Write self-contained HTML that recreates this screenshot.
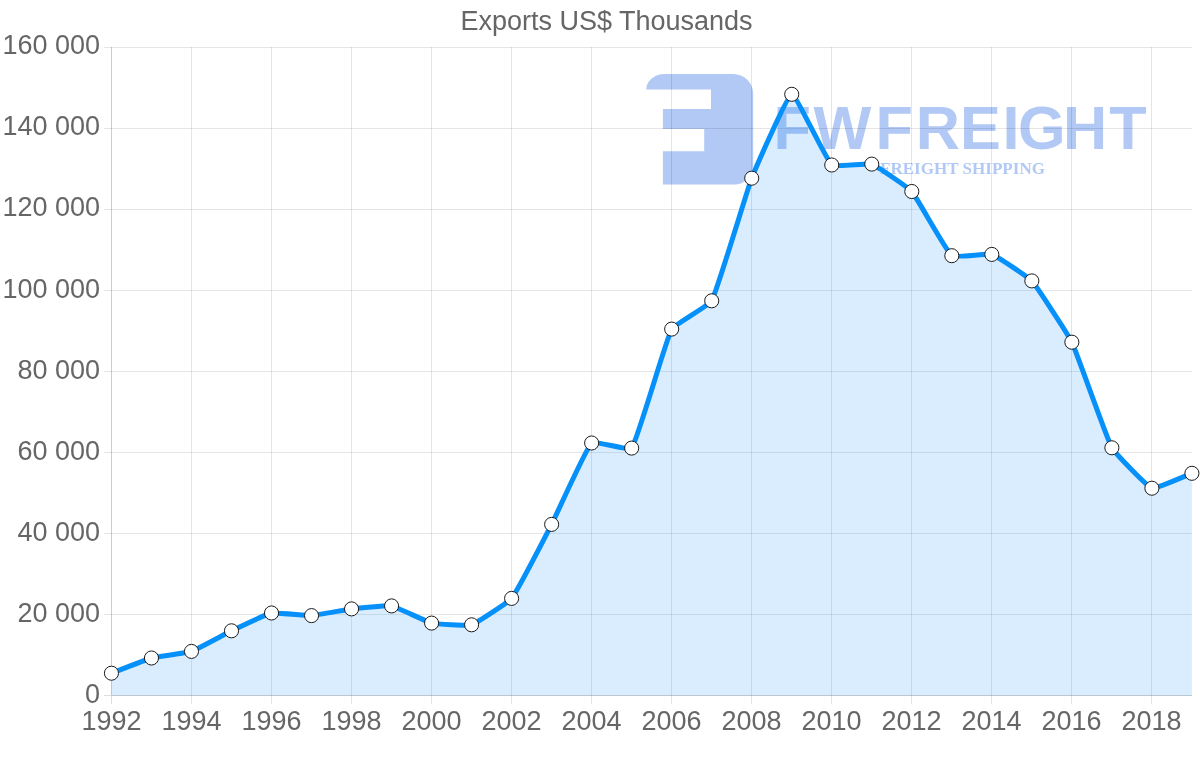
<!DOCTYPE html>
<html lang="en"><head><meta charset="utf-8"><title>Exports US$ Thousands</title>
<style>
html,body{margin:0;padding:0;background:#fff;}
body{width:1200px;height:763px;overflow:hidden;position:relative;}
svg{position:absolute;left:0;top:0;display:block;}
text{font-family:"Liberation Sans",Arial,sans-serif;fill:#666;}
.wm text{fill:#6491eb;}
</style></head><body>
<svg width="1200" height="763" viewBox="0 0 1200 763">
<rect width="1200" height="763" fill="#fff"/>
<text x="606.5" y="30.1" font-size="27" text-anchor="middle">Exports US$ Thousands</text>
<g class="wm" opacity="0.5">
<path d="M646.2 89.6 A18.7 15.7 0 0 1 665 73.9 L733.2 73.9 A20 20 0 0 1 753.2 93.9 L753.2 165.6 A19 19 0 0 1 734.2 184.6 L662.9 184.6 L662.9 151.2 L704.2 151.2 L704.2 129.1 L662.9 129.1 L662.9 109 L711 109 L711 89.6 Z" fill="#6491eb"/>
<text transform="translate(0 148.8) scale(1 1)" x="773.59 813.48 875.44 915.76 959.88 1002.41 1018.00 1062.99 1109.28" y="0" font-size="61.2" font-weight="bold">FWFREIGHT</text>
<text x="880" y="174.1" font-size="17.7" font-weight="bold" style="font-family:'Liberation Serif',serif" textLength="165" lengthAdjust="spacingAndGlyphs">FREIGHT SHIPPING</text>
</g>
<g stroke="#000" stroke-opacity="0.1" stroke-width="1" fill="none">
<line x1="104.0" y1="614.50" x2="1192.0" y2="614.50"/>
<line x1="104.0" y1="533.50" x2="1192.0" y2="533.50"/>
<line x1="104.0" y1="452.50" x2="1192.0" y2="452.50"/>
<line x1="104.0" y1="371.50" x2="1192.0" y2="371.50"/>
<line x1="104.0" y1="290.50" x2="1192.0" y2="290.50"/>
<line x1="104.0" y1="209.50" x2="1192.0" y2="209.50"/>
<line x1="104.0" y1="128.50" x2="1192.0" y2="128.50"/>
<line x1="104.0" y1="47.50" x2="1192.0" y2="47.50"/>
<line x1="191.50" y1="47.0" x2="191.50" y2="704.0"/>
<line x1="271.50" y1="47.0" x2="271.50" y2="704.0"/>
<line x1="351.50" y1="47.0" x2="351.50" y2="704.0"/>
<line x1="431.50" y1="47.0" x2="431.50" y2="704.0"/>
<line x1="511.50" y1="47.0" x2="511.50" y2="704.0"/>
<line x1="591.50" y1="47.0" x2="591.50" y2="704.0"/>
<line x1="671.50" y1="47.0" x2="671.50" y2="704.0"/>
<line x1="751.50" y1="47.0" x2="751.50" y2="704.0"/>
<line x1="831.50" y1="47.0" x2="831.50" y2="704.0"/>
<line x1="911.50" y1="47.0" x2="911.50" y2="704.0"/>
<line x1="991.50" y1="47.0" x2="991.50" y2="704.0"/>
<line x1="1071.50" y1="47.0" x2="1071.50" y2="704.0"/>
<line x1="1151.50" y1="47.0" x2="1151.50" y2="704.0"/>
</g>
<g stroke="#000" stroke-opacity="0.2" stroke-width="1"><line x1="111.5" y1="47.0" x2="111.5" y2="696.0"/><line x1="112.0" y1="695.5" x2="1192.0" y2="695.5"/></g>
<g stroke="#000" stroke-opacity="0.13" stroke-width="1"><line x1="111.5" y1="696.0" x2="111.5" y2="704.0"/><line x1="104.0" y1="695.5" x2="111.0" y2="695.5"/></g>
<text x="100" y="703.10" font-size="27" text-anchor="end">0</text>
<text x="100" y="622.10" font-size="27" text-anchor="end">20 000</text>
<text x="100" y="541.10" font-size="27" text-anchor="end">40 000</text>
<text x="100" y="460.10" font-size="27" text-anchor="end">60 000</text>
<text x="100" y="379.10" font-size="27" text-anchor="end">80 000</text>
<text x="100" y="298.10" font-size="27" text-anchor="end">100 000</text>
<text x="100" y="216.40" font-size="27" text-anchor="end">120 000</text>
<text x="100" y="135.40" font-size="27" text-anchor="end">140 000</text>
<text x="100" y="54.10" font-size="27" text-anchor="end">160 000</text>
<text x="111.50" y="730.3" font-size="27" text-anchor="middle">1992</text>
<text x="191.50" y="730.3" font-size="27" text-anchor="middle">1994</text>
<text x="271.50" y="730.3" font-size="27" text-anchor="middle">1996</text>
<text x="351.50" y="730.3" font-size="27" text-anchor="middle">1998</text>
<text x="431.50" y="730.3" font-size="27" text-anchor="middle">2000</text>
<text x="511.50" y="730.3" font-size="27" text-anchor="middle">2002</text>
<text x="591.50" y="730.3" font-size="27" text-anchor="middle">2004</text>
<text x="671.50" y="730.3" font-size="27" text-anchor="middle">2006</text>
<text x="751.50" y="730.3" font-size="27" text-anchor="middle">2008</text>
<text x="831.50" y="730.3" font-size="27" text-anchor="middle">2010</text>
<text x="911.50" y="730.3" font-size="27" text-anchor="middle">2012</text>
<text x="991.50" y="730.3" font-size="27" text-anchor="middle">2014</text>
<text x="1071.50" y="730.3" font-size="27" text-anchor="middle">2016</text>
<text x="1151.50" y="730.3" font-size="27" text-anchor="middle">2018</text>
<path d="M111.45 673.20 C115.45 671.68 147.36 659.12 151.47 658.00 C155.36 656.94 187.69 652.69 191.48 651.40 C195.69 649.97 227.44 632.75 231.50 630.80 C235.45 628.91 267.34 613.79 271.52 613.00 C275.34 612.27 307.56 615.80 311.54 615.60 C315.56 615.39 347.53 609.39 351.55 608.90 C355.53 608.42 387.73 605.22 391.57 605.90 C395.73 606.64 427.42 622.12 431.59 623.10 C435.42 624.01 467.96 625.92 471.60 624.80 C475.96 623.45 508.71 602.04 511.62 598.40 C516.72 592.00 547.79 531.88 551.64 524.40 C555.79 516.34 586.11 448.28 591.65 443.00 C594.12 440.65 629.72 450.87 631.67 448.10 C637.73 439.48 665.93 339.69 671.69 329.10 C673.94 324.96 709.50 304.96 711.71 300.80 C717.50 289.87 747.07 190.20 751.72 178.20 C755.07 169.55 787.47 95.00 791.74 94.30 C795.47 93.68 826.39 160.32 831.76 165.00 C834.40 167.30 868.15 162.90 871.77 164.10 C876.16 165.55 908.66 187.92 911.79 191.50 C916.67 197.08 946.57 251.59 951.81 255.70 C954.58 257.88 988.18 253.25 991.82 254.40 C996.19 255.77 1028.67 277.42 1031.84 280.90 C1036.68 286.20 1068.71 335.64 1071.86 342.20 C1076.71 352.33 1106.55 438.09 1111.88 447.80 C1114.56 452.69 1147.32 486.74 1151.89 488.20 C1155.32 489.29 1187.91 474.79 1191.91 473.30 L1191.91 695.5 L111.45 695.5 Z" fill="#1490ff" fill-opacity="0.16"/>
<path d="M111.45 673.20 C115.45 671.68 147.36 659.12 151.47 658.00 C155.36 656.94 187.69 652.69 191.48 651.40 C195.69 649.97 227.44 632.75 231.50 630.80 C235.45 628.91 267.34 613.79 271.52 613.00 C275.34 612.27 307.56 615.80 311.54 615.60 C315.56 615.39 347.53 609.39 351.55 608.90 C355.53 608.42 387.73 605.22 391.57 605.90 C395.73 606.64 427.42 622.12 431.59 623.10 C435.42 624.01 467.96 625.92 471.60 624.80 C475.96 623.45 508.71 602.04 511.62 598.40 C516.72 592.00 547.79 531.88 551.64 524.40 C555.79 516.34 586.11 448.28 591.65 443.00 C594.12 440.65 629.72 450.87 631.67 448.10 C637.73 439.48 665.93 339.69 671.69 329.10 C673.94 324.96 709.50 304.96 711.71 300.80 C717.50 289.87 747.07 190.20 751.72 178.20 C755.07 169.55 787.47 95.00 791.74 94.30 C795.47 93.68 826.39 160.32 831.76 165.00 C834.40 167.30 868.15 162.90 871.77 164.10 C876.16 165.55 908.66 187.92 911.79 191.50 C916.67 197.08 946.57 251.59 951.81 255.70 C954.58 257.88 988.18 253.25 991.82 254.40 C996.19 255.77 1028.67 277.42 1031.84 280.90 C1036.68 286.20 1068.71 335.64 1071.86 342.20 C1076.71 352.33 1106.55 438.09 1111.88 447.80 C1114.56 452.69 1147.32 486.74 1151.89 488.20 C1155.32 489.29 1187.91 474.79 1191.91 473.30" fill="none" stroke="#0590fa" stroke-width="5" stroke-linejoin="miter" stroke-linecap="butt"/>
<g fill="#fff" stroke="#1a1a1a" stroke-width="1">
<circle cx="111.45" cy="673.20" r="7.05"/>
<circle cx="151.47" cy="658.00" r="7.05"/>
<circle cx="191.48" cy="651.40" r="7.05"/>
<circle cx="231.50" cy="630.80" r="7.05"/>
<circle cx="271.52" cy="613.00" r="7.05"/>
<circle cx="311.54" cy="615.60" r="7.05"/>
<circle cx="351.55" cy="608.90" r="7.05"/>
<circle cx="391.57" cy="605.90" r="7.05"/>
<circle cx="431.59" cy="623.10" r="7.05"/>
<circle cx="471.60" cy="624.80" r="7.05"/>
<circle cx="511.62" cy="598.40" r="7.05"/>
<circle cx="551.64" cy="524.40" r="7.05"/>
<circle cx="591.65" cy="443.00" r="7.05"/>
<circle cx="631.67" cy="448.10" r="7.05"/>
<circle cx="671.69" cy="329.10" r="7.05"/>
<circle cx="711.71" cy="300.80" r="7.05"/>
<circle cx="751.72" cy="178.20" r="7.05"/>
<circle cx="791.74" cy="94.30" r="7.05"/>
<circle cx="831.76" cy="165.00" r="7.05"/>
<circle cx="871.77" cy="164.10" r="7.05"/>
<circle cx="911.79" cy="191.50" r="7.05"/>
<circle cx="951.81" cy="255.70" r="7.05"/>
<circle cx="991.82" cy="254.40" r="7.05"/>
<circle cx="1031.84" cy="280.90" r="7.05"/>
<circle cx="1071.86" cy="342.20" r="7.05"/>
<circle cx="1111.88" cy="447.80" r="7.05"/>
<circle cx="1151.89" cy="488.20" r="7.05"/>
<circle cx="1191.91" cy="473.30" r="7.05"/>
</g>
</svg>
</body></html>
